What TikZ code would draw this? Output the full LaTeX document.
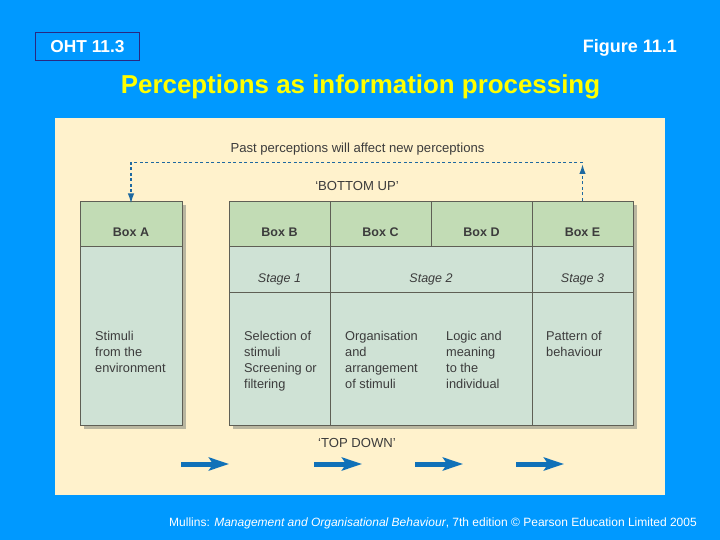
\documentclass[tikz,border=0pt]{standalone}
\usepackage{fontspec}
\setmainfont{Liberation Sans}
\usetikzlibrary{arrows.meta}
\definecolor{bgblue}{RGB}{0,153,255}
\definecolor{navy}{RGB}{40,40,130}
\definecolor{titley}{RGB}{255,255,0}
\definecolor{cream}{RGB}{255,242,204}
\definecolor{hdr}{RGB}{194,220,181}
\definecolor{bodyc}{RGB}{207,226,213}
\definecolor{edge}{RGB}{95,95,85}
\definecolor{shadowc}{RGB}{185,182,160}
\definecolor{txt}{RGB}{60,60,60}
\definecolor{arrowblue}{RGB}{16,113,184}
\definecolor{dashblue}{RGB}{30,105,160}
\tikzset{
  cell/.style={draw=edge, line width=0.7pt, inner sep=0pt, outer sep=0pt, anchor=north west},
  lowtext/.style={text height=30pt, text depth=4pt},
  hcell/.style={cell, fill=hdr, lowtext, font=\bfseries\fontsize{12.5}{15}\selectfont, text=txt},
  bcell/.style={cell, fill=bodyc},
  stagetxt/.style={lowtext, font=\itshape\fontsize{12.5}{15}\selectfont, text=txt},
  bodytxt/.style={font=\fontsize{12.8}{16}\selectfont, text=txt, align=left, anchor=north west, inner sep=0pt},
  labeltxt/.style={font=\fontsize{13.1}{15}\selectfont, text=txt, inner sep=0pt},
  fb/.style={draw=dashblue, line width=1.5pt, dash pattern=on 3pt off 2.5pt, -{Latex[length=10pt,width=6.5pt]}},
  bigarrow/.style={draw=arrowblue, line width=5pt, -{Stealth[length=20pt,width=13pt,inset=4pt]}}
}
\begin{document}
\begin{tikzpicture}[x=1pt,y=-1pt]
\fill[bgblue] (0,0) rectangle (720,540);
\useasboundingbox (0,0) rectangle (720,540);
% header
\node[draw=navy, line width=1pt, minimum width=104pt, minimum height=28pt, anchor=north west, text=white, font=\bfseries\fontsize{17.3}{20}\selectfont, inner sep=0pt] (oht) at (35,32) {OHT 11.3};
\node[anchor=east, text=white, font=\bfseries\fontsize{18}{20}\selectfont, inner sep=0pt] (fig) at (677,47.5) {Figure 11.1};
\node[text=titley, font=\bfseries\fontsize{25.9}{30}\selectfont, inner sep=0pt] (title) at (360.5,86.5) {Perceptions as information processing};
% panel
\fill[cream] (55,118) rectangle (665,495);
% shadows
\fill[shadowc] (84,205) rectangle (186,429);
\fill[shadowc] (233,205) rectangle (637,429);
% Box A
\node[bcell, minimum width=102pt, minimum height=179pt] (Abody) at (80,246) {};
\node[hcell, minimum width=102pt, minimum height=45pt] (A) at (80,201) {Box A};
% Big box
\node[bcell, minimum width=101pt, minimum height=46pt, stagetxt] (s1) at (229,246) {Stage 1};
\node[bcell, minimum width=202pt, minimum height=46pt, stagetxt] (s2) at (330,246) {Stage 2};
\node[bcell, minimum width=101pt, minimum height=46pt, stagetxt] (s3) at (532,246) {Stage 3};
\node[bcell, minimum width=101pt, minimum height=133pt] (b1) at (229,292) {};
\node[bcell, minimum width=202pt, minimum height=133pt] (b2) at (330,292) {};
\node[bcell, minimum width=101pt, minimum height=133pt] (b3) at (532,292) {};
\node[hcell, minimum width=101pt, minimum height=45pt] (B) at (229,201) {Box B};
\node[hcell, minimum width=101pt, minimum height=45pt] (C) at (330,201) {Box C};
\node[hcell, minimum width=101pt, minimum height=45pt] (D) at (431,201) {Box D};
\node[hcell, minimum width=101pt, minimum height=45pt] (E) at (532,201) {Box E};
\draw[edge, line width=0.9pt] (229,201) rectangle (633,425);
\draw[edge, line width=0.9pt] (80,201) rectangle (182,425);
% body texts
\node[bodytxt] (ta) at (95,331) {Stimuli\\from the\\environment};
\node[bodytxt] (tb) at (244,331) {Selection of\\stimuli\\Screening or\\filtering};
\node[bodytxt] (tc) at (345,331) {Organisation\\and\\arrangement\\of stimuli};
\node[bodytxt] (td) at (446,331) {Logic and\\meaning\\to the\\individual};
\node[bodytxt] (te) at (546,331) {Pattern of\\behaviour};
% labels
\node[labeltxt] (past) at (357.5,149) {Past perceptions will affect new perceptions};
\node[labeltxt] (bu) at (357,186) {‘BOTTOM UP’};
\node[labeltxt] (td2) at (357,443) {‘TOP DOWN’};
% feedback connector
\coordinate (turn) at (0,162.5);
\draw[fb] (E.north) -- ++(0,-37);
\draw[fb] (E.north |- turn) -| ([yshift=-2.5pt]A.north);
% top-down arrows
\coordinate (a1s) at (181,464); \coordinate (a1e) at (229,464);
\coordinate (a2s) at (314,464); \coordinate (a2e) at (362,464);
\coordinate (a3s) at (415,464); \coordinate (a3e) at (463,464);
\coordinate (a4s) at (516,464); \coordinate (a4e) at (564,464);
\draw[bigarrow] (a1s) -- (a1e);
\draw[bigarrow] (a2s) -- (a2e);
\draw[bigarrow] (a3s) -- (a3e);
\draw[bigarrow] (a4s) -- (a4e);
% footer
\node[anchor=east, text=white, font=\fontsize{12}{14}\selectfont, inner sep=0pt] (foot) at (697,523.5) {Mullins: \textit{Management and Organisational Behaviour}, 7th edition © Pearson Education Limited 2005};
\end{tikzpicture}
\end{document}
